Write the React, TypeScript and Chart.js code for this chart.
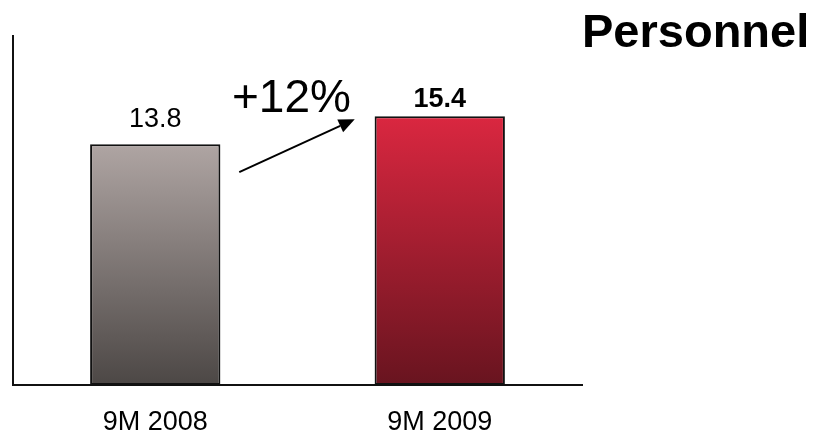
import React, { useEffect, useRef } from "react";
import { Chart, registerables } from "chart.js";

Chart.register(...registerables);

const categories: string[] = ["9M 2008", "9M 2009"];
const values: number[] = [13.8, 15.4];
const valueLabels: string[] = ["13.8", "15.4"];
const labelBold: boolean[] = [false, true];
const gradientTop: string[] = ["#afa5a3", "#da2740"];
const gradientBottom: string[] = ["#4c4745", "#68141f"];
const growthLabel = "+12%";
const title = "Personnel";

const FONT = "'Liberation Sans', Arial, sans-serif";

export default function App() {
  const ref = useRef<HTMLCanvasElement | null>(null);

  useEffect(() => {
    if (!ref.current) return;

    const overlay = {
      id: "overlay",
      afterDatasetsDraw(chart: any) {
        const ctx = chart.ctx;
        const meta = chart.getDatasetMeta(0);
        ctx.save();
        ctx.fillStyle = "#000";
        ctx.textAlign = "center";
        ctx.textBaseline = "alphabetic";
        const offs = [17, 9];
        meta.data.forEach((bar: any, i: number) => {
          ctx.font = `${labelBold[i] ? "bold " : ""}27px ${FONT}`;
          ctx.fillText(valueLabels[i], bar.x, bar.y - offs[i]);
        });
        // growth label
        ctx.textAlign = "left";
        ctx.font = `46px ${FONT}`;
        ctx.fillText(growthLabel, 232, 112);
        // arrow
        const b0 = meta.data[0];
        const b1 = meta.data[1];
        const x1 = b0.x + 84, y1 = b0.y + 28;
        const x2 = b1.x - 85, y2 = b1.y + 3;
        const ang = Math.atan2(y2 - y1, x2 - x1);
        const hl = 16, hw = 7;
        const bx = x2 - hl * Math.cos(ang), by = y2 - hl * Math.sin(ang);
        ctx.strokeStyle = "#000";
        ctx.lineWidth = 2;
        ctx.beginPath();
        ctx.moveTo(x1, y1);
        ctx.lineTo(bx, by);
        ctx.stroke();
        ctx.beginPath();
        ctx.moveTo(x2, y2);
        ctx.lineTo(bx + hw * Math.sin(ang), by - hw * Math.cos(ang));
        ctx.lineTo(bx - hw * Math.sin(ang), by + hw * Math.cos(ang));
        ctx.closePath();
        ctx.fill();
        // title
        ctx.font = `bold 47px ${FONT}`;
        ctx.fillText(title, 582, 47);
        ctx.restore();
      },
    };

    const chart = new Chart(ref.current, {
      type: "bar",
      data: {
        labels: categories,
        datasets: [
          {
            data: values,
            backgroundColor: (c: any) => {
              const ch = c.chart;
              if (!ch.chartArea || c.dataIndex === undefined) return gradientTop[0];
              const ys = ch.scales.y;
              const top = ys.getPixelForValue(values[c.dataIndex]);
              const bot = ys.getPixelForValue(0);
              const g = ch.ctx.createLinearGradient(0, top, 0, bot);
              g.addColorStop(0, gradientTop[c.dataIndex]);
              g.addColorStop(1, gradientBottom[c.dataIndex]);
              return g;
            },
            borderColor: "#111",
            borderWidth: 2,
            borderSkipped: false,
            barPercentage: 0.458,
            categoryPercentage: 1,
          },
        ],
      },
      options: {
        animation: false,
        responsive: true,
        maintainAspectRatio: false,
        layout: { padding: { left: 13, right: 231, top: 36, bottom: -26 } },
        plugins: {
          legend: { display: false },
          tooltip: { enabled: false },
        },
        scales: {
          x: {
            grid: { display: false, drawTicks: false },
            border: { display: true, color: "#111", width: 2 },
            ticks: {
              color: "#000",
              padding: 24,
              font: { family: FONT, size: 27, lineHeight: 1 },
            },
          },
          y: {
            min: 0,
            max: 20,
            grid: { display: false, drawTicks: false },
            border: { display: true, color: "#111", width: 2 },
            ticks: { display: false },
          },
        },
      },
      plugins: [overlay],
    });

    return () => chart.destroy();
  }, []);

  return (
    <div style={{ position: "fixed", left: 0, top: 0, width: 813, height: 434, background: "#fff" }}>
      <canvas ref={ref} />
    </div>
  );
}
